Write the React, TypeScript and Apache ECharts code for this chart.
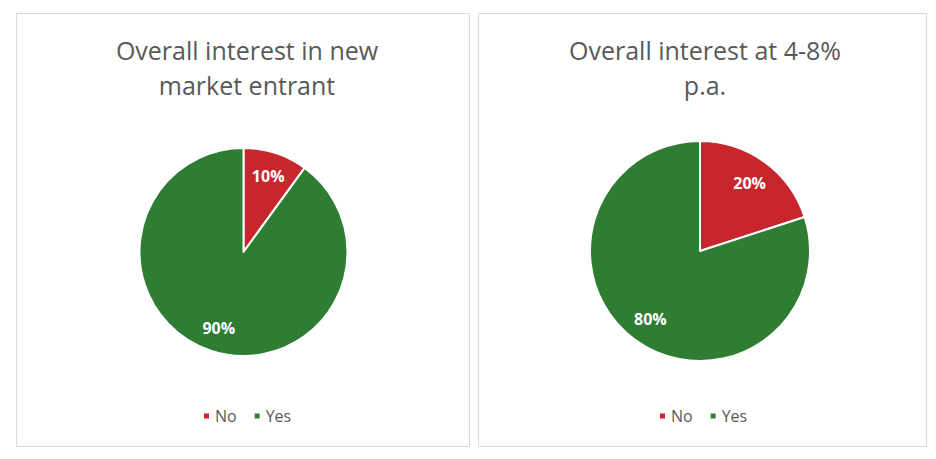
import React, { useEffect, useRef } from "react";
import * as echarts from "echarts";

const categories = ["No", "Yes"];
const chart1Title = "Overall interest in new\nmarket entrant";
const chart1Values = [10, 90];
const chart2Title = "Overall interest at 4-8%\np.a.";
const chart2Values = [20, 80];
const colors = ["#C8262D", "#2E7D32"];

const FONT = "'Open Sans', 'Noto Sans', sans-serif";

function makeData(values: number[]) {
  return categories.map((name, i) => ({ name, value: values[i], itemStyle: { color: colors[i] } }));
}

export default function App() {
  const ref = useRef<HTMLDivElement>(null);
  useEffect(() => {
    document.body.style.margin = "0";
    const chart = echarts.init(ref.current!, null, { renderer: "svg" });
    const pies = [
      { center: [243.5, 252], r: 104, values: chart1Values },
      { center: [700, 251], r: 110, values: chart2Values },
    ];
    const series: any[] = [];
    pies.forEach((p) => {
      series.push({
        type: "pie",
        center: p.center,
        radius: [0, p.r],
        startAngle: 90,
        clockwise: true,
        label: { show: false },
        labelLine: { show: false },
        itemStyle: { borderColor: "#ffffff", borderWidth: 2 },
        emphasis: { disabled: true },
        data: makeData(p.values),
      });
      series.push({
        type: "pie",
        center: p.center,
        radius: [p.r * 0.48, p.r],
        startAngle: 90,
        clockwise: true,
        silent: true,
        z: 3,
        itemStyle: { color: "transparent", borderWidth: 0 },
        label: {
          show: true,
          position: "inside",
          formatter: (d: any) => d.value + "%",
          color: "#ffffff",
          fontWeight: "bold",
          fontSize: 16,
          fontFamily: FONT,
        },
        labelLine: { show: false },
        emphasis: { disabled: true },
        data: categories.map((name, i) => ({ name, value: p.values[i], itemStyle: { color: "transparent" } })),
      });
    });
    const legendData = categories.map((name, i) => ({ name, itemStyle: { color: colors[i] } }));
    const legendCommon = {
      icon: "rect",
      itemWidth: 7,
      itemHeight: 7,
      itemGap: 16,
      selectedMode: false,
      textStyle: { fontSize: 16, color: "#595959", fontFamily: FONT },
      data: legendData,
    };
    chart.setOption({
      animation: false,
      backgroundColor: "#ffffff",
      title: [
        {
          text: chart1Title,
          left: 242,
          top: 27,
          textAlign: "center",
          textStyle: { fontSize: 25, fontWeight: "normal", color: "#595959", fontFamily: FONT, lineHeight: 35 },
        },
        {
          text: chart2Title,
          left: 700,
          top: 27,
          textAlign: "center",
          textStyle: { fontSize: 25, fontWeight: "normal", color: "#595959", fontFamily: FONT, lineHeight: 35 },
        },
      ],
      legend: [
        { ...legendCommon, left: 197, top: 403 },
        { ...legendCommon, left: 653, top: 403 },
      ],
      graphic: [
        { type: "rect", shape: { x: 16.5, y: 13.5, width: 453, height: 433 }, style: { fill: "none", stroke: "#d9d9d9", lineWidth: 1 }, silent: true },
        { type: "rect", shape: { x: 478.5, y: 13.5, width: 448, height: 433 }, style: { fill: "none", stroke: "#d9d9d9", lineWidth: 1 }, silent: true },
      ],
      series,
    });
    return () => chart.dispose();
  }, []);
  return <div ref={ref} style={{ width: 936, height: 459 }} />;
}
